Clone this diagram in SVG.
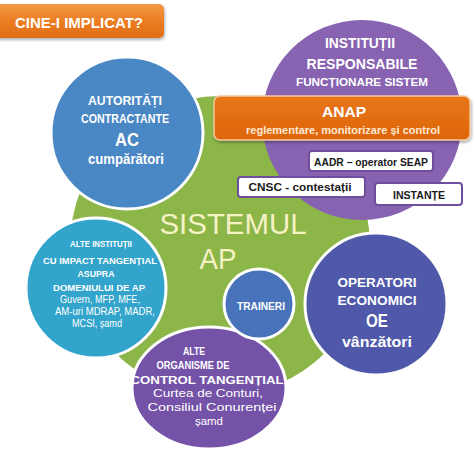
<svg xmlns="http://www.w3.org/2000/svg" width="474" height="454" viewBox="0 0 474 454">
<defs>
<linearGradient id="gOrange" x1="0" y1="0" x2="0" y2="1">
<stop offset="0" stop-color="#f39a45"/><stop offset="0.5" stop-color="#ec7d22"/><stop offset="1" stop-color="#e06e16"/>
</linearGradient>
<linearGradient id="gAnap" x1="0" y1="0" x2="0" y2="1">
<stop offset="0" stop-color="#e8761a"/><stop offset="1" stop-color="#de6608"/>
</linearGradient>
<filter id="sh" x="-10%" y="-20%" width="120%" height="150%">
<feDropShadow dx="1" dy="2" stdDeviation="1.5" flood-color="#000" flood-opacity="0.3"/>
</filter>
</defs>
<style>
text{font-family:"Liberation Sans",Arial,sans-serif;text-anchor:middle;fill:#fff}
.b{font-weight:bold}
.ring{stroke:#fff;stroke-width:3}
.box{fill:#fff;stroke:#6e4f9e;stroke-width:2}
.dk{fill:#1a1a1a;font-weight:bold}
.sys{fill:#f5f2c6}
</style>
<rect width="474" height="454" fill="#fff"/>
<g id="title">
<rect x="-6" y="4" width="170" height="34" rx="5" fill="url(#gOrange)" filter="url(#sh)"/>
<text class="b" x="79" y="28" font-size="14" textLength="128" lengthAdjust="spacingAndGlyphs">CINE-I IMPLICAT?</text>
</g>
<g id="sistem">
<circle cx="220" cy="246" r="150" fill="#8db649"/>
<text class="sys" x="233" y="234" font-size="30" textLength="147" lengthAdjust="spacingAndGlyphs">SISTEMUL</text>
<text class="sys" x="218" y="269" font-size="30" textLength="37" lengthAdjust="spacingAndGlyphs">AP</text>
</g>
<g id="institutii">
<circle cx="362" cy="120" r="100" fill="#8763b1"/>
<text class="b" x="360" y="48" font-size="14" textLength="70" lengthAdjust="spacingAndGlyphs">INSTITUȚII</text>
<text class="b" x="362" y="69" font-size="14" textLength="111" lengthAdjust="spacingAndGlyphs">RESPONSABILE</text>
<text class="b" x="362" y="86" font-size="10.5" textLength="132" lengthAdjust="spacingAndGlyphs">FUNCȚIONARE SISTEM</text>
</g>
<g id="anap">
<rect x="214" y="96" width="256" height="44" rx="6" fill="url(#gAnap)" stroke="#f4c79e" stroke-width="1.5" filter="url(#sh)"/>
<text class="b" x="344" y="117" font-size="15" textLength="44" lengthAdjust="spacingAndGlyphs">ANAP</text>
<text class="b" x="343" y="134" font-size="11.5" textLength="194" lengthAdjust="spacingAndGlyphs" style="fill:#fde9d6">reglementare, monitorizare și control</text>
</g>
<g id="aadr">
<rect class="box" x="309" y="151" width="124" height="20" rx="3"/>
<text class="dk" x="371" y="166" font-size="11" textLength="114" lengthAdjust="spacingAndGlyphs">AADR – operator SEAP</text>
</g>
<g id="cnsc">
<rect class="box" x="238" y="177" width="127" height="20" rx="3"/>
<text class="dk" x="300" y="191" font-size="11" textLength="103" lengthAdjust="spacingAndGlyphs">CNSC - contestații</text>
</g>
<g id="instante">
<rect class="box" x="375" y="183" width="87" height="22" rx="3"/>
<text class="dk" x="419" y="199" font-size="11" textLength="52" lengthAdjust="spacingAndGlyphs">INSTANȚE</text>
</g>
<g id="ac">
<circle class="ring" cx="127" cy="133" r="76" fill="#4a87c5"/>
<text class="b" x="125" y="105" font-size="13" textLength="74" lengthAdjust="spacingAndGlyphs">AUTORITĂȚI</text>
<text class="b" x="125" y="123" font-size="13" textLength="88" lengthAdjust="spacingAndGlyphs">CONTRACTANTE</text>
<text class="b" x="127" y="146" font-size="19" textLength="24" lengthAdjust="spacingAndGlyphs">AC</text>
<text class="b" x="126" y="164" font-size="14" textLength="76" lengthAdjust="spacingAndGlyphs">cumpărători</text>
</g>
<g id="alte-institutii">
<circle class="ring" cx="96" cy="288" r="70" fill="#33a4cb"/>
<text class="b" x="101" y="247" font-size="9.5" textLength="62" lengthAdjust="spacingAndGlyphs">ALTE INSTITUȚII</text>
<text class="b" x="100" y="264" font-size="9.5" textLength="114" lengthAdjust="spacingAndGlyphs">CU IMPACT TANGENȚIAL</text>
<text class="b" x="96" y="277" font-size="9.5" textLength="37" lengthAdjust="spacingAndGlyphs">ASUPRA</text>
<text class="b" x="99" y="291" font-size="9.5" textLength="92" lengthAdjust="spacingAndGlyphs">DOMENIULUI DE AP</text>
<text x="100" y="303" font-size="10" textLength="80" lengthAdjust="spacingAndGlyphs">Guvern, MFP, MFE,</text>
<text x="105" y="315" font-size="10" textLength="100" lengthAdjust="spacingAndGlyphs">AM-uri MDRAP, MADR,</text>
<text x="97" y="327" font-size="10" textLength="50" lengthAdjust="spacingAndGlyphs">MCSI, șamd</text>
</g>
<g id="alte-organisme">
<ellipse class="ring" cx="209" cy="388" rx="77" ry="61" fill="#7452a7"/>
<text class="b" x="194" y="355" font-size="10" textLength="22" lengthAdjust="spacingAndGlyphs">ALTE</text>
<text class="b" x="193" y="369" font-size="10" textLength="73" lengthAdjust="spacingAndGlyphs">ORGANISME DE</text>
<text class="b" x="207" y="384" font-size="10" textLength="153" lengthAdjust="spacingAndGlyphs">CONTROL TANGENȚIAL</text>
<text x="208" y="397" font-size="10.5" textLength="110" lengthAdjust="spacingAndGlyphs">Curtea de Conturi,</text>
<text x="212" y="411" font-size="10.5" textLength="129" lengthAdjust="spacingAndGlyphs">Consiliul Conurenței</text>
<text x="209" y="425" font-size="10.5" textLength="28" lengthAdjust="spacingAndGlyphs">șamd</text>
</g>
<g id="traineri">
<circle class="ring" cx="259" cy="304" r="35" fill="#4873ba"/>
<text class="b" x="261" y="310" font-size="10" textLength="48" lengthAdjust="spacingAndGlyphs">TRAINERI</text>
</g>
<g id="oe">
<circle class="ring" cx="376" cy="304" r="71" fill="#5059a9"/>
<text class="b" x="377" y="287" font-size="13" textLength="79" lengthAdjust="spacingAndGlyphs">OPERATORI</text>
<text class="b" x="377" y="305" font-size="13" textLength="79" lengthAdjust="spacingAndGlyphs">ECONOMICI</text>
<text class="b" x="377" y="327" font-size="19" textLength="22" lengthAdjust="spacingAndGlyphs">OE</text>
<text class="b" x="377" y="347" font-size="14" textLength="70" lengthAdjust="spacingAndGlyphs">vânzători</text>
</g>
<g id="connectors"/>
</svg>
